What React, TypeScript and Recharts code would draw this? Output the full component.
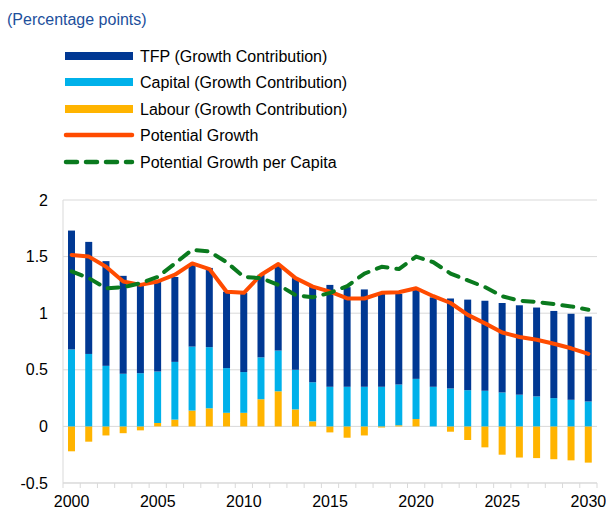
import React from 'react';
import { ComposedChart, Bar, Line, XAxis, YAxis, CartesianGrid } from 'recharts';

const years = ['2000','2001','2002','2003','2004','2005','2006','2007','2008','2009','2010','2011','2012','2013','2014','2015','2016','2017','2018','2019','2020','2021','2022','2023','2024','2025','2026','2027','2028','2029','2030'];
const tfp = [1.05,0.99,0.925,0.865,0.79,0.795,0.75,0.725,0.70,0.675,0.70,0.73,0.75,0.81,0.845,0.90,0.88,0.86,0.82,0.80,0.79,0.79,0.795,0.80,0.795,0.79,0.79,0.785,0.77,0.76,0.75];
const capital = [0.68,0.64,0.535,0.465,0.47,0.455,0.51,0.565,0.54,0.395,0.36,0.37,0.36,0.35,0.345,0.35,0.35,0.35,0.35,0.36,0.355,0.35,0.335,0.32,0.315,0.30,0.28,0.265,0.25,0.235,0.22];
const labour = [-0.22,-0.135,-0.08,-0.06,-0.035,0.03,0.06,0.14,0.16,0.12,0.12,0.24,0.31,0.15,0.045,-0.053,-0.10,-0.08,-0.01,0.01,0.065,0,-0.047,-0.12,-0.185,-0.25,-0.275,-0.28,-0.29,-0.30,-0.32];
const potentialGrowth = [1.515,1.50,1.41,1.28,1.25,1.28,1.34,1.44,1.39,1.19,1.18,1.34,1.435,1.31,1.235,1.19,1.13,1.13,1.18,1.185,1.22,1.15,1.09,0.985,0.91,0.83,0.79,0.765,0.73,0.69,0.64];
const perCapita = [1.37,1.31,1.22,1.23,1.265,1.32,1.44,1.56,1.545,1.45,1.32,1.31,1.25,1.16,1.14,1.18,1.24,1.35,1.41,1.39,1.50,1.45,1.35,1.29,1.23,1.15,1.11,1.10,1.08,1.06,1.03];
const yTicks = [-0.5, 0, 0.5, 1, 1.5, 2];

const data = years.map((year, i) => ({
  year,
  tfp: tfp[i],
  capital: capital[i],
  labour: labour[i],
  pg: potentialGrowth[i],
  pgc: perCapita[i],
}));

const FONT = '"Liberation Sans", Arial, Helvetica, sans-serif';
const C_TFP = '#003893';
const C_CAP = '#00b1ea';
const C_LAB = '#ffb400';
const C_PG = '#ff4b00';
const C_PGC = '#0a7a1e';
const GRID = '#d9d9d9';
const HALF = 534 / 31 / 2;

function XTick(props: any) {
  const { x, y, payload, index } = props;
  const v = String(payload.value);
  const show = Number(v) % 5 === 0;
  return (
    <g>
      <line x1={x - HALF} x2={x - HALF} y1={y} y2={y + 5} stroke={GRID} />
      {index === years.length - 1 && (
        <line x1={x + HALF} x2={x + HALF} y1={y} y2={y + 5} stroke={GRID} />
      )}
      {show && (
        <text x={x} y={y + 24} textAnchor="middle" fontSize={16} fill="#000" fontFamily={FONT}>
          {v}
        </text>
      )}
    </g>
  );
}

const legendItems = [
  { label: 'TFP (Growth Contribution)', color: C_TFP, kind: 'bar', y: 56 },
  { label: 'Capital (Growth Contribution)', color: C_CAP, kind: 'bar', y: 82 },
  { label: 'Labour (Growth Contribution)', color: C_LAB, kind: 'bar', y: 109 },
  { label: 'Potential Growth', color: C_PG, kind: 'line', y: 135 },
  { label: 'Potential Growth per Capita', color: C_PGC, kind: 'dash', y: 162 },
];

export default function App() {
  return (
    <div style={{ position: 'absolute', left: 0, top: 0, width: 606, height: 511, background: '#fff' }}>
      <svg width={606} height={190} style={{ position: 'absolute', left: 0, top: 0 }}>
        <text x={7} y={25} fontSize={16} fill="#1d4f9c" fontFamily={FONT}>(Percentage points)</text>
        {legendItems.map((it) => (
          <g key={it.label}>
            {it.kind === 'bar' && (
              <rect x={65} y={it.y - 4} width={68} height={8} fill={it.color} />
            )}
            {it.kind === 'line' && (
              <line x1={66} x2={132} y1={it.y} y2={it.y} stroke={it.color} strokeWidth={4.5} strokeLinecap="round" />
            )}
            {it.kind === 'dash' && (
              <line x1={66} x2={132} y1={it.y} y2={it.y} stroke={it.color} strokeWidth={4.5} strokeLinecap="round" strokeDasharray="11 9" />
            )}
            <text x={140} y={it.y + 6} fontSize={16} fill="#000" fontFamily={FONT}>{it.label}</text>
          </g>
        ))}
      </svg>
      <div style={{ position: 'absolute', left: 0, top: 0 }}>
        <ComposedChart
          width={606}
          height={511}
          data={data}
          stackOffset="sign"
          margin={{ top: 200, right: 9, bottom: 0, left: 0 }}
          barCategoryGap="60%"
        >
          <CartesianGrid vertical={false} stroke={GRID} />
          <XAxis
            dataKey="year"
            interval={0}
            height={28}
            tickSize={0}
            tickMargin={0}
            tickLine={false}
            axisLine={{ stroke: GRID }}
            tick={<XTick />}
          />
          <YAxis
            domain={[-0.5, 2]}
            ticks={yTicks}
            width={63}
            tickSize={0}
            tickMargin={15}
            tickLine={false}
            axisLine={{ stroke: GRID }}
            tick={{ fontSize: 16, fill: '#000', fontFamily: FONT }}
            interval={0}
          />
          <Bar dataKey="labour" stackId="a" fill={C_LAB} barSize={7} isAnimationActive={false} />
          <Bar dataKey="capital" stackId="a" fill={C_CAP} barSize={7} isAnimationActive={false} />
          <Bar dataKey="tfp" stackId="a" fill={C_TFP} barSize={7} isAnimationActive={false} />
          <Line
            type="linear"
            dataKey="pg"
            stroke={C_PG}
            strokeWidth={4}
            dot={false}
            strokeLinecap="round"
            strokeLinejoin="round"
            isAnimationActive={false}
          />
          <Line
            type="linear"
            dataKey="pgc"
            stroke={C_PGC}
            strokeWidth={4}
            dot={false}
            strokeDasharray="11 9"
            strokeLinecap="round"
            strokeLinejoin="round"
            isAnimationActive={false}
          />
        </ComposedChart>
      </div>
    </div>
  );
}
